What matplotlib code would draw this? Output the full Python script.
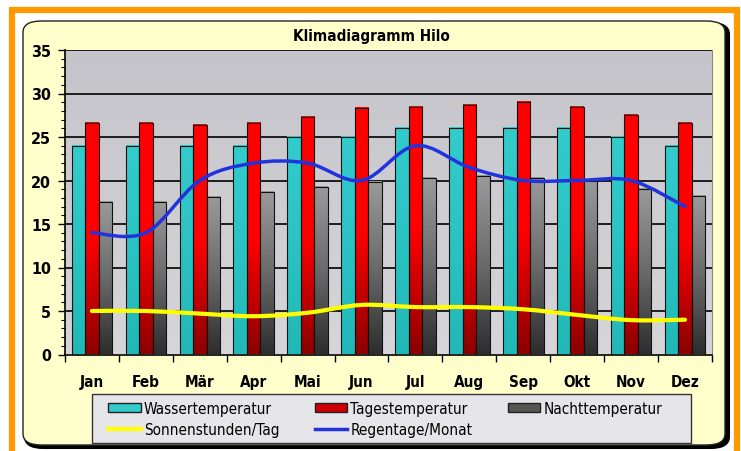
import numpy as np
import matplotlib
matplotlib.use("Agg")
import matplotlib.pyplot as plt
from matplotlib.patches import FancyBboxPatch, Rectangle
from matplotlib.path import Path
from matplotlib.patches import PathPatch
from matplotlib.colors import LinearSegmentedColormap
from matplotlib.lines import Line2D
from matplotlib.ticker import MultipleLocator

months = ["Jan", "Feb", "Mär", "Apr", "Mai", "Jun", "Jul", "Aug", "Sep", "Okt", "Nov", "Dez"]
wasser = [24, 24, 24, 24, 25, 25, 26, 26, 26, 26, 25, 24]
tag = [26.6, 26.6, 26.4, 26.6, 27.3, 28.3, 28.4, 28.7, 29.0, 28.4, 27.5, 26.6]
nacht = [17.5, 17.5, 18.1, 18.7, 19.3, 19.8, 20.3, 20.5, 20.3, 19.9, 19.0, 18.2]
sonne = [5.0, 5.0, 4.7, 4.4, 4.8, 5.7, 5.45, 5.45, 5.2, 4.55, 3.95, 4.0]
regen = [14, 14, 20, 22, 22, 20, 24, 21.5, 20, 20, 20, 17]

plt.rcParams["font.family"] = ["Liberation Sans Narrow", "DejaVu Sans"]
plt.rcParams["font.stretch"] = "condensed"

W, H = 741, 452
fig = plt.figure(figsize=(W / 100, H / 100), dpi=100)
fig.patch.set_facecolor("white")


def fx(px):
    return px / W


def fy(py):
    return 1 - py / H


# orange frame
fig.patches.append(Rectangle((fx(12), fy(470)), fx(725), fy(11) - fy(470),
                             transform=fig.transFigure, fill=False,
                             edgecolor="#FF9900", linewidth=4.5, zorder=-10))
# shadow + cream rounded box
fig.patches.append(FancyBboxPatch((fx(25), fy(449)), fx(704), fy(24) - fy(449),
                                  boxstyle="round,pad=0,rounding_size=0.025",
                                  transform=fig.transFigure, facecolor="black",
                                  edgecolor="black", linewidth=1.5, zorder=-10))
fig.patches.append(FancyBboxPatch((fx(23), fy(446)), fx(702), fy(22) - fy(446),
                                  boxstyle="round,pad=0,rounding_size=0.025",
                                  transform=fig.transFigure, facecolor="#FFFFCC",
                                  edgecolor="#222222", linewidth=1.0, zorder=-10))
# legend frame
fig.patches.append(Rectangle((fx(92), fy(444)), fx(691 - 92), fy(395) - fy(444),
                             transform=fig.transFigure, facecolor="#E6E6EA",
                             edgecolor="#333333", linewidth=1.0, zorder=-9))

ax = fig.add_axes([fx(65), fy(355.5), fx(712 - 65), fy(51) - fy(355.5)])
ax.set_facecolor("none")

# plot area background gradient
bg = LinearSegmentedColormap.from_list("bg", ["#D6D6DA", "#C4C4CA"])
ax.imshow(np.linspace(0, 1, 100).reshape(-1, 1), cmap=bg, origin="lower",
          extent=[0, 1, 0, 1], transform=ax.transAxes, aspect="auto", zorder=0)

x = np.arange(len(months))
bw = 0.25
for v in range(5, 36, 5):
    ax.axhline(v, color="black", linewidth=1.2, zorder=1)

cmaps = {
    "wasser": LinearSegmentedColormap.from_list("w", ["#22B8B8", "#33CCCC"]),
    "tag": LinearSegmentedColormap.from_list("t", ["#8C0000", "#FF0000", "#FF0000"]),
    "nacht": LinearSegmentedColormap.from_list("n", ["#2E2E2E", "#6A6A6A", "#9A9A9A"]),
}
series = [("wasser", wasser, -bw), ("tag", tag, 0), ("nacht", nacht, bw)]
grad = np.linspace(0, 1, 100).reshape(-1, 1)
for key, vals, off in series:
    bars = ax.bar(x + off, vals, width=bw, facecolor="none", edgecolor="#111111",
                  linewidth=0.8, zorder=3)
    for b in bars:
        ax.imshow(grad, cmap=cmaps[key], origin="lower", aspect="auto",
                  extent=[b.get_x(), b.get_x() + b.get_width(), 0, b.get_height()],
                  zorder=2)


def smooth_path(xs, ys):
    pts = np.column_stack([xs, ys]).astype(float)
    ext = np.vstack([pts[0], pts, pts[-1]])
    verts = [pts[0]]
    codes = [Path.MOVETO]
    for i in range(len(pts) - 1):
        p0, p1, p2, p3 = ext[i], ext[i + 1], ext[i + 2], ext[i + 3]
        verts += [p1 + (p2 - p0) / 6, p2 - (p3 - p1) / 6, p2]
        codes += [Path.CURVE4] * 3
    return Path(verts, codes)


ax.add_patch(PathPatch(smooth_path(x, sonne), facecolor="none", edgecolor="#FFFF00",
                       linewidth=3, zorder=4, capstyle="round"))
ax.add_patch(PathPatch(smooth_path(x, regen), facecolor="none", edgecolor="#2233DD",
                       linewidth=2.5, zorder=4, capstyle="round"))

ax.set_xlim(-0.5, len(months) - 0.5)
ax.set_ylim(0, 35)
ax.set_xticks(x)
ax.set_xticklabels(months, fontsize=11, fontweight="bold")
ax.set_xticks(np.arange(-0.5, len(months)), minor=True)
ax.tick_params(axis="x", which="major", length=0, pad=14)
ax.tick_params(axis="x", which="minor", length=5, width=1, direction="out")
ax.yaxis.set_major_locator(MultipleLocator(5))
ax.yaxis.set_minor_locator(MultipleLocator(1))
ax.tick_params(axis="y", which="major", length=5, width=1, labelsize=11.5, pad=5)
ax.tick_params(axis="y", which="minor", length=3, width=0.8)
for lab in ax.get_yticklabels():
    lab.set_fontweight("bold")
ax.spines["top"].set_visible(False)
ax.spines["left"].set_linewidth(1.2)
ax.spines["bottom"].set_linewidth(1.2)
ax.spines["right"].set_color("#888888")

fig.text(fx(371), fy(37), "Klimadiagramm Hilo", ha="center", va="center",
         fontsize=11, fontweight="bold")

handles = [
    Rectangle((0, 0), 1, 1, facecolor="#33CCCC", edgecolor="#222222"),
    Line2D([], [], color="#FFFF00", linewidth=3),
    Rectangle((0, 0), 1, 1, facecolor="#CC0000", edgecolor="#222222"),
    Line2D([], [], color="#2233DD", linewidth=2.5),
    Rectangle((0, 0), 1, 1, facecolor="#555555", edgecolor="#222222"),
]
labels = ["Wassertemperatur", "Sonnenstunden/Tag", "Tagestemperatur",
          "Regentage/Monat", "Nachttemperatur"]
leg = fig.legend(handles, labels, ncol=3, loc="upper left",
                 bbox_to_anchor=(fx(108), fy(402)), fontsize=11, frameon=False,
                 handlelength=2.15, handleheight=0.55, handletextpad=0.2,
                 columnspacing=2.3, borderpad=0, labelspacing=0.4,
                 borderaxespad=0)

fig.savefig("out.png", dpi=100)
